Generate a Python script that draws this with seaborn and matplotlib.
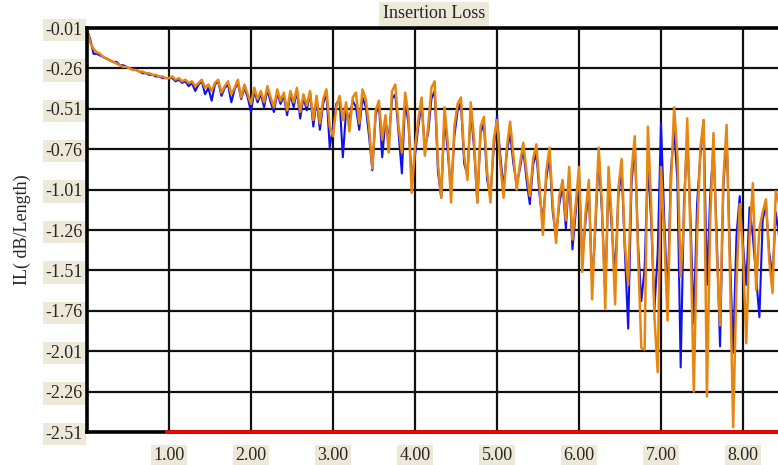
import numpy as np
import pandas as pd
import matplotlib
matplotlib.use("Agg")
import matplotlib.pyplot as plt
import seaborn as sns

# ---- data (step 0.04 GHz) ----
freq = [round(0.04 * i, 2) for i in range(212)]

orange = [
    # 0.00 - 0.96
    -0.02, -0.10, -0.14, -0.16, -0.17, -0.19, -0.20, -0.21, -0.22, -0.23, -0.24, -0.25, -0.25,
    -0.26, -0.27, -0.27, -0.28, -0.28, -0.29, -0.29, -0.30, -0.30, -0.31, -0.31, -0.32,
    # 1.00 - 1.96
    -0.32, -0.31, -0.33, -0.32, -0.34, -0.33, -0.35, -0.34, -0.37, -0.35, -0.33, -0.38, -0.36,
    -0.40, -0.35, -0.33, -0.41, -0.37, -0.34, -0.42, -0.38, -0.33, -0.44, -0.36, -0.42,
    # 2.00 - 2.96
    -0.48, -0.38, -0.45, -0.40, -0.47, -0.37, -0.44, -0.50, -0.39, -0.46, -0.41, -0.52, -0.40,
    -0.47, -0.38, -0.53, -0.42, -0.49, -0.40, -0.58, -0.43, -0.60, -0.45, -0.39, -0.62,
    # 3.00 - 3.96
    -0.68, -0.50, -0.43, -0.58, -0.47, -0.65, -0.44, -0.41, -0.60, -0.39, -0.45, -0.62, -0.88,
    -0.52, -0.46, -0.70, -0.55, -0.78, -0.40, -0.36, -0.62, -0.78, -0.41, -0.55, -1.03,
    # 4.00 - 4.96
    -0.75, -0.58, -0.44, -0.80, -0.62, -0.38, -0.34, -0.85, -1.06, -0.50, -0.72, -1.09, -0.62,
    -0.48, -0.44, -0.80, -0.95, -0.47, -0.70, -1.09, -0.62, -0.56, -0.90, -1.09, -0.70,
    # 5.00 - 5.96
    -0.58, -0.85, -1.06, -0.75, -0.59, -0.80, -1.01, -0.85, -0.72, -0.90, -1.05, -0.82, -0.73,
    -1.00, -1.29, -0.90, -0.75, -1.10, -1.34, -1.05, -0.95, -1.20, -0.87, -1.32, -1.10,
    # 6.00 - 6.96
    -0.87, -1.52, -1.15, -0.95, -1.69, -1.20, -0.75, -1.10, -1.75, -0.87, -1.20, -1.72, -1.00,
    -0.82, -1.35, -1.60, -0.90, -0.68, -1.40, -1.99, -2.00, -0.62, -1.10, -1.80, -2.14,
    # 7.00 - 7.96
    -0.87, -1.30, -1.82, -1.00, -0.50, -0.80, -1.55, -1.20, -0.57, -1.30, -2.26, -1.30, -0.75,
    -0.58, -2.29, -1.20, -0.66, -1.40, -1.85, -0.95, -0.61, -1.50, -2.48, -1.60, -1.10,
    # 8.00 - 8.44
    -1.40, -1.96, -1.30, -0.97, -1.63, -1.25, -1.15, -1.07, -1.45, -1.65, -1.02, -1.10,
]

blue = [
    # 0.00 - 0.96
    -0.02, -0.08, -0.17, -0.17, -0.18, -0.19, -0.20, -0.21, -0.22, -0.22, -0.24, -0.24, -0.25,
    -0.26, -0.26, -0.27, -0.28, -0.29, -0.29, -0.30, -0.30, -0.31, -0.31, -0.32, -0.32,
    # 1.00 - 1.96
    -0.32, -0.32, -0.34, -0.33, -0.35, -0.34, -0.37, -0.35, -0.40, -0.36, -0.34, -0.42, -0.38,
    -0.46, -0.36, -0.34, -0.43, -0.38, -0.36, -0.47, -0.39, -0.35, -0.45, -0.38, -0.44,
    # 2.00 - 2.96
    -0.53, -0.40, -0.47, -0.42, -0.50, -0.39, -0.47, -0.53, -0.41, -0.48, -0.43, -0.55, -0.42,
    -0.50, -0.40, -0.57, -0.44, -0.52, -0.41, -0.62, -0.45, -0.64, -0.48, -0.41, -0.75,
    # 3.00 - 3.96
    -0.62, -0.48, -0.45, -0.81, -0.52, -0.58, -0.46, -0.50, -0.64, -0.44, -0.50, -0.68, -0.89,
    -0.55, -0.48, -0.81, -0.58, -0.70, -0.45, -0.42, -0.66, -0.91, -0.46, -0.60, -0.95,
    # 4.00 - 4.96
    -0.80, -0.62, -0.48, -0.75, -0.66, -0.45, -0.40, -0.90, -1.06, -0.55, -0.78, -1.02, -0.68,
    -0.52, -0.47, -0.85, -0.92, -0.52, -0.75, -1.09, -0.66, -0.60, -0.95, -1.05, -0.75,
    # 5.00 - 5.96
    -0.56, -0.80, -1.00, -0.78, -0.66, -0.85, -0.98, -0.88, -0.76, -0.95, -1.10, -0.86, -0.78,
    -1.05, -1.20, -0.95, -0.80, -1.15, -1.30, -1.10, -0.98, -1.25, -0.92, -1.38, -1.15,
    # 6.00 - 6.96
    -0.92, -1.45, -1.20, -1.00, -1.60, -1.25, -0.80, -1.15, -1.65, -0.95, -1.25, -1.55, -1.05,
    -0.88, -1.40, -1.87, -0.98, -0.72, -1.35, -1.70, -1.50, -0.85, -1.20, -1.75, -1.40,
    # 7.00 - 7.96
    -0.60, -1.20, -1.70, -0.90, -0.64, -0.95, -2.11, -1.10, -0.67, -1.20, -1.84, -1.10, -0.80,
    -0.58, -1.60, -1.05, -0.75, -1.30, -1.98, -1.00, -0.67, -1.40, -2.02, -1.30, -1.05,
    # 8.00 - 8.44
    -1.35, -1.60, -1.12, -1.30, -1.55, -1.80, -1.20, -1.10, -1.40, -1.55, -1.15, -1.30,
]

y_ticks = [-0.01, -0.26, -0.51, -0.76, -1.01, -1.26, -1.51, -1.76, -2.01, -2.26, -2.51]
y_tick_labels = ["-0.01", "-0.26", "-0.51", "-0.76", "-1.01", "-1.26", "-1.51",
                 "-1.76", "-2.01", "-2.26", "-2.51"]
x_ticks = [1, 2, 3, 4, 5, 6, 7, 8]
x_tick_labels = ["1.00", "2.00", "3.00", "4.00", "5.00", "6.00", "7.00", "8.00"]

title = "Insertion Loss"
ylabel = "IL( dB/Length)"

# ---- styling ----
sns.set_style("white")
plt.rcParams["font.family"] = ["Liberation Serif", "DejaVu Serif"]

W, H = 778, 465
fig = plt.figure(figsize=(W / 100, H / 100), dpi=100)
ax = fig.add_axes([87 / W, 1 - 432 / H, 1 - 87 / W, (432 - 28) / H])

df = pd.DataFrame({"freq": freq * 2,
                   "il": blue + orange,
                   "series": ["blue"] * len(blue) + ["orange"] * len(orange)})

sns.lineplot(data=df[df.series == "blue"], x="freq", y="il", color="#1010F0",
             linewidth=1.5, ax=ax, zorder=3)
sns.lineplot(data=df[df.series == "orange"], x="freq", y="il", color="#E8870F",
             linewidth=1.8, ax=ax, zorder=4)

ax.set_xlim(0, (W - 87) / 82)
ax.set_ylim(-2.51, -0.01)

ax.set_xticks(x_ticks)
ax.set_xticklabels(x_tick_labels)
ax.set_yticks(y_ticks)
ax.set_yticklabels(y_tick_labels)
ax.tick_params(axis="both", length=0, labelsize=13)
ax.tick_params(axis="x", pad=11)
ax.tick_params(axis="y", pad=3)

box = dict(facecolor="#ECE9D8", edgecolor="none", pad=2.0)
for lab in ax.get_xticklabels() + ax.get_yticklabels():
    lab.set_bbox(box)

ax.grid(True, color="#111111", linewidth=1.6, zorder=1)
ax.set_axisbelow(True)

ax.spines["right"].set_visible(False)
for side in ["left", "top", "bottom"]:
    ax.spines[side].set_color("black")
    ax.spines[side].set_linewidth(2.6)
    ax.spines[side].set_zorder(6)

# red section of the base line
ax.plot([0.95, ax.get_xlim()[1]], [-2.51, -2.51], color="#FF0000", linewidth=2.6,
        clip_on=False, zorder=7, solid_capstyle="butt")

ax.set_xlabel("")
ax.set_ylabel(ylabel, fontsize=13, labelpad=10)

fig.text(434 / W, 1 - 14 / H, title, ha="center", va="center", fontsize=13,
         bbox=dict(facecolor="#ECE9D8", edgecolor="none", pad=2.5))

fig.savefig("out.png", dpi=100, facecolor="white")
